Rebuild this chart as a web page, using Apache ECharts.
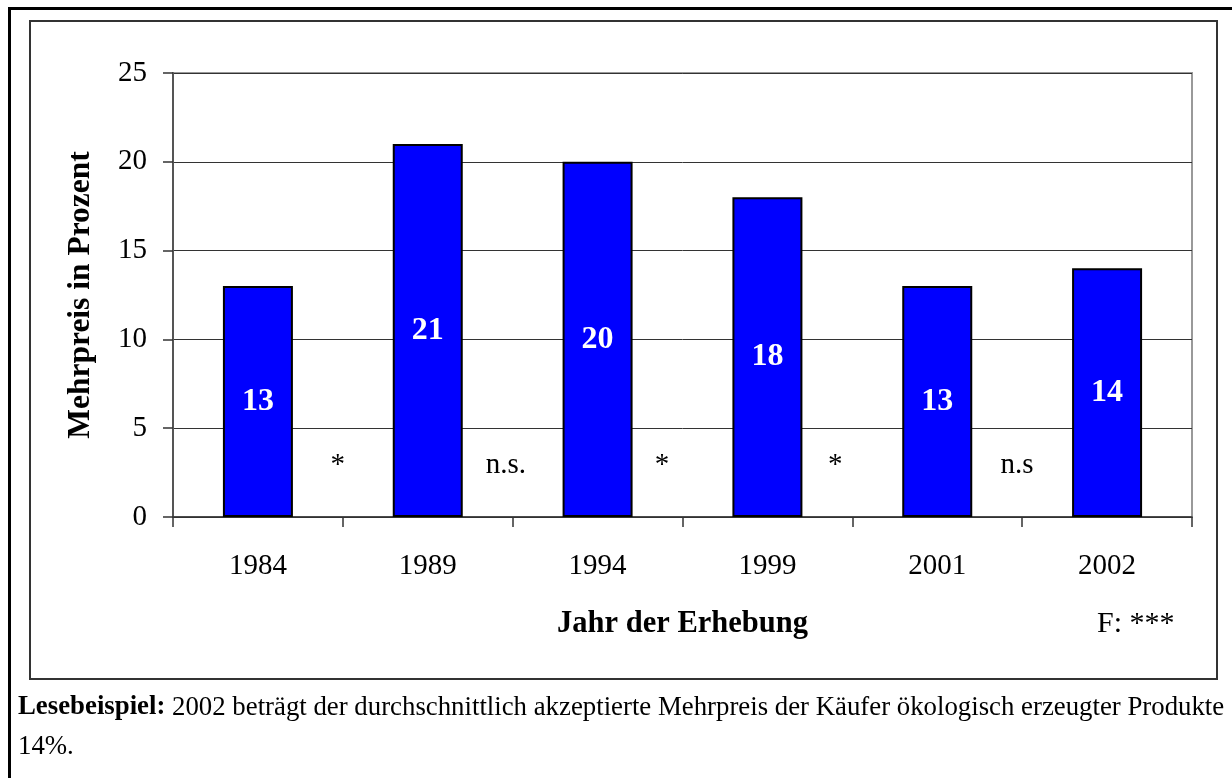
<!DOCTYPE html>
<html>
<head>
<meta charset="utf-8">
<script src="https://cdn.jsdelivr.net/npm/echarts@6/dist/echarts.min.js"></script>
<style>
  html, body { margin: 0; padding: 0; background: #fff; }
  #chart { width: 1232px; height: 778px; }
</style>
</head>
<body>
<div id="chart"></div>
<script>
// survey years and accepted extra price (percent)
var years = ['1984', '1989', '1994', '1999', '2001', '2002'];
var mehrpreis = [13, 21, 20, 18, 13, 14];
// significance between neighbouring surveys (x in category units, y in percent)
var sigLabels = ['*', 'n.s.', '*', '*', 'n.s'];
var sigX = [0.97, 1.96, 2.88, 3.9, 4.97];
var sigY = [2.9, 2.9, 2.9, 2.9, 2.9];
var yTicks = [0, 5, 10, 15, 20, 25];

var serif = 'Liberation Serif, Times New Roman, serif';

var chart = echarts.init(document.getElementById('chart'));

var sigData = sigX.map(function (x, i) { return [x, sigY[i], sigLabels[i]]; });

chart.setOption({
  animation: false,
  textStyle: { fontFamily: serif },
  grid: {
    left: 173, top: 73, right: 40, bottom: 261,
    show: true, borderColor: '#999', borderWidth: 2, backgroundColor: '#fff'
  },
  xAxis: [{
    type: 'category',
    data: years,
    name: 'Jahr der Erhebung',
    nameLocation: 'middle',
    nameGap: 92,
    nameTextStyle: { fontFamily: serif, fontWeight: 'bold', fontSize: 30.5, color: '#000' },
    axisLine: { lineStyle: { color: '#333', width: 1.5 } },
    axisTick: { show: true, length: 10, lineStyle: { color: '#333', width: 1.5 } },
    axisLabel: { fontFamily: serif, fontSize: 29, color: '#000', margin: 35 },
    splitLine: { show: false }
  }, {
    type: 'value',
    min: 0, max: 6,
    show: false
  }],
  yAxis: {
    type: 'value',
    min: 0, max: 25, interval: 5,
    name: 'Mehrpreis in Prozent',
    nameLocation: 'middle',
    nameGap: 76,
    nameTextStyle: { fontFamily: serif, fontWeight: 'bold', fontSize: 31.5, color: '#000' },
    axisLine: { show: true, lineStyle: { color: '#555', width: 2 } },
    axisTick: { show: true, inside: false, length: 10, lineStyle: { color: '#333', width: 1.5 } },
    axisLabel: {
      fontFamily: serif, fontSize: 29, color: '#000', margin: 26,
      formatter: function (v) { return yTicks.indexOf(v) >= 0 ? String(v) : ''; }
    },
    splitLine: { show: true, lineStyle: { color: '#333', width: 1 } }
  },
  series: [{
    name: 'Mehrpreis',
    type: 'bar',
    data: mehrpreis,
    barWidth: 70,
    itemStyle: { color: '#0000ff', borderColor: '#000', borderWidth: 2 },
    label: {
      show: true,
      position: 'inside',
      fontFamily: serif,
      fontWeight: 'bold',
      fontSize: 32,
      color: '#fff'
    }
  }, {
    name: 'Signifikanz',
    type: 'scatter',
    xAxisIndex: 1,
    data: sigData,
    symbolSize: 0,
    itemStyle: { opacity: 1 },
    label: {
      show: true,
      position: 'inside',
      formatter: function (p) { return p.data[2]; },
      fontFamily: serif,
      fontSize: 29,
      color: '#000',
      opacity: 1
    }
  }],
  graphic: [{
    type: 'rect',
    shape: { x: 9.5, y: 8.5, width: 1240, height: 790 },
    style: { fill: 'none', stroke: '#000', lineWidth: 3 },
    z: -1
  }, {
    type: 'rect',
    shape: { x: 30, y: 21, width: 1187, height: 658 },
    style: { fill: 'none', stroke: '#333', lineWidth: 2 },
    z: -1
  }, {
    type: 'text',
    left: 1097, top: 609,
    style: { text: 'F: ***', font: '30px ' + serif, fill: '#000' }
  }, {
    type: 'text',
    left: 18, top: 694,
    style: {
      text: '{b|Lesebeispiel:} 2002 beträgt der durchschnittlich akzeptierte Mehrpreis der Käufer ökologisch erzeugter Produkte',
      font: '26.8px ' + serif,
      fill: '#000',
      rich: {
        b: { fontWeight: 'bold', fontSize: 26.8, fontFamily: serif }
      }
    }
  }, {
    type: 'text',
    left: 18, top: 733,
    style: { text: '14%.', font: '26.8px ' + serif, fill: '#000' }
  }]
});
</script>
</body>
</html>
